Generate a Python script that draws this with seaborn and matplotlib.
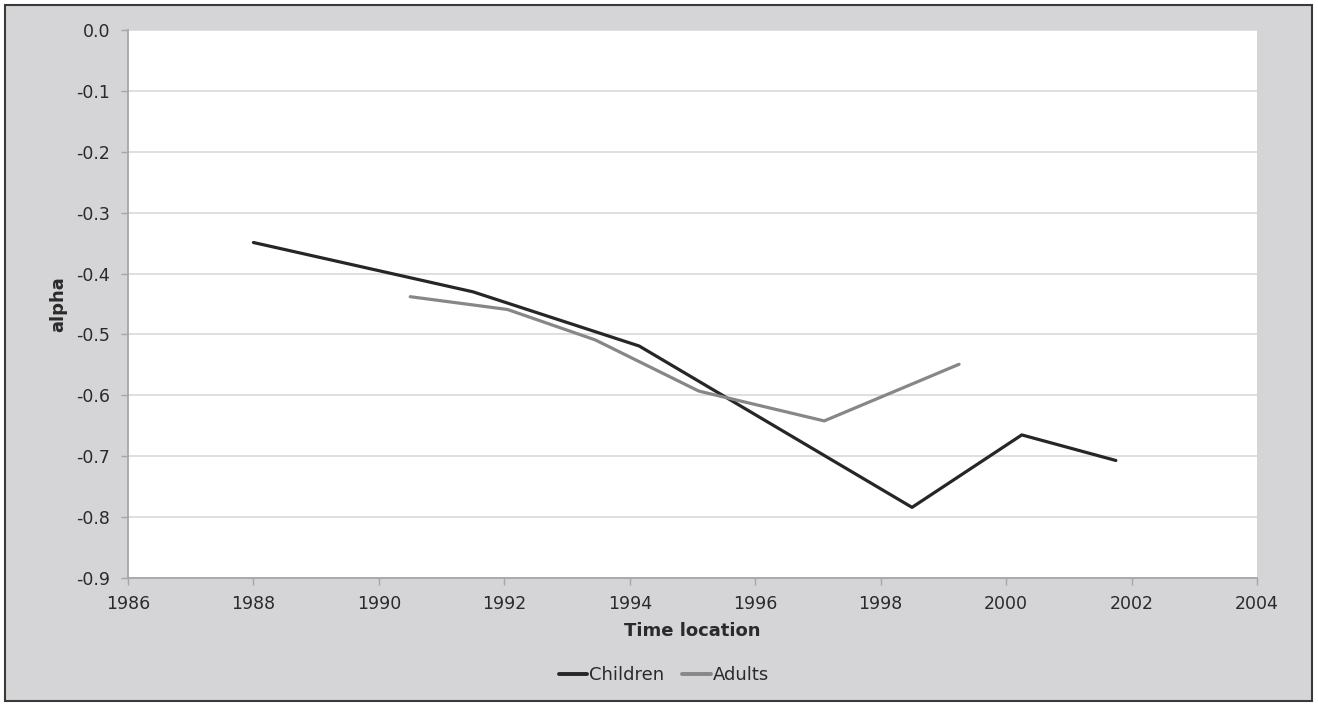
import matplotlib
matplotlib.use("Agg")
import matplotlib.pyplot as plt
import seaborn as sns
import pandas as pd
from matplotlib.patches import Rectangle
from matplotlib.lines import Line2D

# Data
children_x = [1988.0, 1991.5, 1994.15, 1998.5, 2000.25, 2001.75]
children_y = [-0.349, -0.430, -0.519, -0.784, -0.665, -0.707]
adults_x = [1990.5, 1992.05, 1993.45, 1995.1, 1997.1, 1999.25]
adults_y = [-0.438, -0.459, -0.509, -0.593, -0.642, -0.549]
series_names = ["Children", "Adults"]
x_ticks = [1986, 1988, 1990, 1992, 1994, 1996, 1998, 2000, 2002, 2004]
y_ticks = [0.0, -0.1, -0.2, -0.3, -0.4, -0.5, -0.6, -0.7, -0.8, -0.9]

df = pd.concat([
    pd.DataFrame({"x": children_x, "y": children_y, "series": series_names[0]}),
    pd.DataFrame({"x": adults_x, "y": adults_y, "series": series_names[1]}),
], ignore_index=True)

sns.set_theme(style="white")
plt.rcParams["font.family"] = ["DejaVu Sans"]

bg = "#d5d5d7"
txt = "#2a2a2a"
fig = plt.figure(figsize=(13.18, 7.05), dpi=100, facecolor="white")
border = Rectangle((5 / 1318, 4 / 705), 1 - 11 / 1318, 1 - 9 / 705,
                   transform=fig.transFigure, facecolor=bg,
                   edgecolor="#3a3a3a", linewidth=1.5, zorder=-10)
fig.patches.append(border)

ax = fig.add_axes([128 / 1318, 1 - 578 / 705, (1257 - 128) / 1318, (578 - 30) / 705])
ax.set_zorder(1)
ax.set_facecolor("white")

sns.lineplot(data=df, x="x", y="y", hue="series", hue_order=series_names,
             palette={"Children": "#262626", "Adults": "#878787"},
             linewidth=2.3, ax=ax, legend=False, estimator=None, sort=False)

ax.set_xlim(1986, 2004)
ax.set_ylim(-0.9, 0.0)
ax.set_xticks(x_ticks)
ax.set_yticks(y_ticks)
ax.set_yticklabels([f"{v:.1f}" for v in y_ticks])
ax.grid(axis="y", color="#d9d9d9", linewidth=1.2)
ax.grid(axis="x", visible=False)
ax.set_axisbelow(True)

for s in ["top", "right"]:
    ax.spines[s].set_visible(False)
for s in ["left", "bottom"]:
    ax.spines[s].set_color("#a6a6a6")
    ax.spines[s].set_linewidth(1.3)

ax.tick_params(axis="both", which="major", direction="out", length=5, width=1,
               color="#a6a6a6", labelsize=12.5, labelcolor=txt)
ax.tick_params(axis="y", pad=8)
ax.tick_params(axis="x", pad=7)
ax.tick_params(left=True, bottom=True)

ax.set_xlabel("Time location", fontsize=13, fontweight="bold", color=txt, labelpad=7)
ax.set_ylabel("alpha", fontsize=13, fontweight="bold", color=txt, labelpad=6)

handles = [Line2D([], [], color="#262626", linewidth=2.8),
           Line2D([], [], color="#878787", linewidth=2.8)]
fig.legend(handles, series_names, loc="center", ncol=2,
           bbox_to_anchor=(664 / 1318, 1 - 675 / 705), frameon=False,
           fontsize=13, handlelength=1.6, handletextpad=0.1, columnspacing=1.0,
           labelcolor=txt)

fig.savefig("out.png", dpi=100, facecolor=fig.get_facecolor())
